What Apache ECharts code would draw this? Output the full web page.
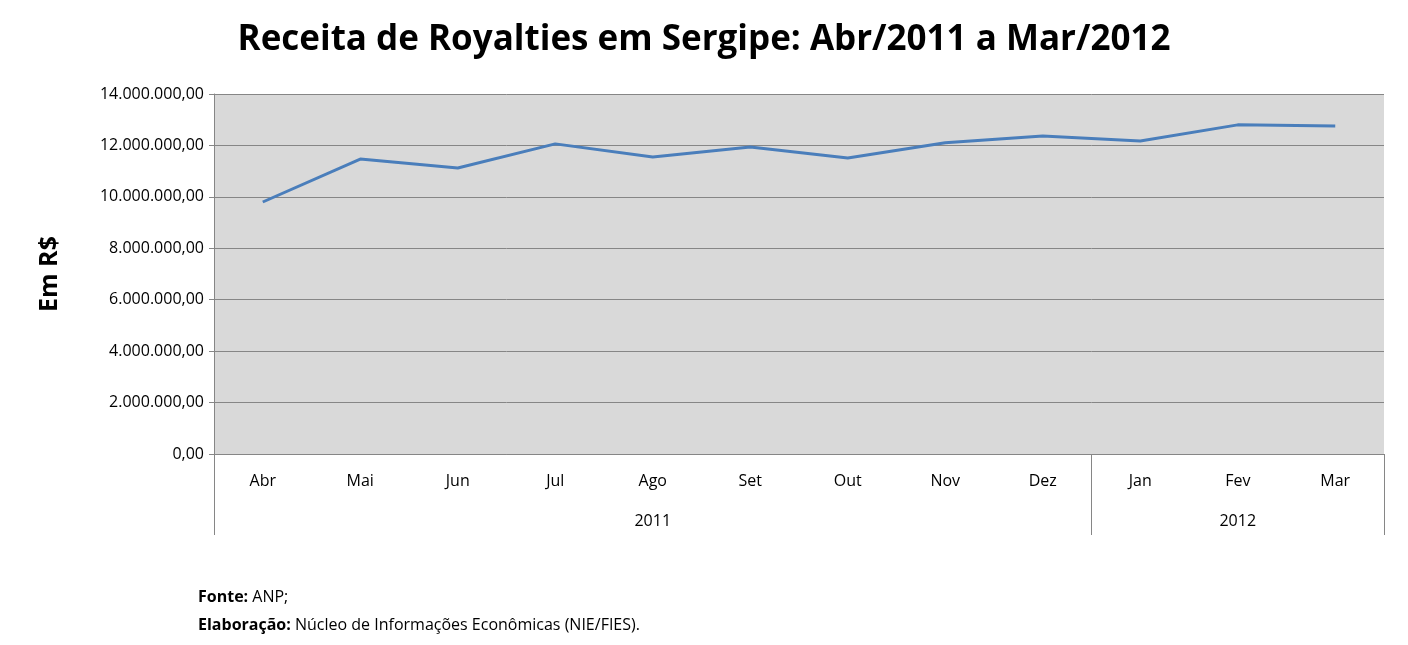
<!DOCTYPE html>
<html><head><meta charset="utf-8">
<script src="https://cdn.jsdelivr.net/npm/echarts@6/dist/echarts.min.js"></script>
<style>html,body{margin:0;background:#fff}#c{width:1408px;height:645px}</style>
</head><body><div id="c"></div>
<script>
var months = ['Abr','Mai','Jun','Jul','Ago','Set','Out','Nov','Dez','Jan','Fev','Mar'];
var years = ['','','','','2011','','','','','','2012',''];
var receita = [9800000,11470000,11120000,12060000,11550000,11940000,11510000,12100000,12370000,12170000,12800000,12760000];
var font = '"Open Sans", "Liberation Sans", sans-serif';

function brl(v){
	var s = Math.round(v).toString().replace(/\B(?=(\d{3})+(?!\d))/g, '.');
	return s + ',00';
}

var chart = echarts.init(document.getElementById('c'));
chart.setOption({
	backgroundColor: '#fff',
	textStyle: {fontFamily: font},
	title: [{
		text: 'Receita de Royalties em Sergipe: Abr/2011 a Mar/2012',
		left: 'center', top: 18,
		textStyle: {fontSize: 35, fontWeight: 'bold', color: '#000', fontFamily: font}
	}, {
		text: '{b|Fonte:} ANP;\n{b|Elaboração:} Núcleo de Informações Econômicas (NIE/FIES).',
		left: 193, top: 578,
		textStyle: {fontSize: 16, fontWeight: 'normal', color: '#000', lineHeight: 28, fontFamily: font,
			rich: {b: {fontWeight: 'bold', fontSize: 16, fontFamily: font}}}
	}],
	grid: {left: 214, right: 24, top: 94, bottom: 191, backgroundColor: '#d9d9d9', show: true, borderWidth: 0},
	xAxis: [{
		type: 'category', data: months, boundaryGap: true,
		axisLine: {lineStyle: {color: '#868686'}},
		axisTick: {show: false},
		axisLabel: {margin: 19, fontSize: 16, color: '#000'}
	}, {
		type: 'category', data: years, position: 'bottom', boundaryGap: true,
		axisLine: {show: false},
		axisTick: {show: true, length: 81, lineStyle: {color: '#868686'},
			interval: function(i){ return i === 0 || i === 9 || i === 12; }},
		axisLabel: {margin: 59, fontSize: 16, color: '#000', interval: 0}
	}],
	yAxis: {
		type: 'value', min: 0, max: 14000000, interval: 2000000,
		name: 'Em R$', nameLocation: 'middle', nameGap: 152,
		nameTextStyle: {fontSize: 25, fontWeight: 'bold', color: '#000'},
		axisLine: {show: true, lineStyle: {color: '#868686'}},
		axisTick: {show: true, length: 5, lineStyle: {color: '#868686'}},
		axisLabel: {formatter: brl, fontSize: 16, color: '#000', margin: 10},
		splitLine: {lineStyle: {color: '#868686'}}
	},
	series: [{
		type: 'line', data: receita, xAxisIndex: 0,
		symbol: 'none', smooth: false,
		lineStyle: {color: '#4a7ebb', width: 3}
	}]
});
</script></body></html>
